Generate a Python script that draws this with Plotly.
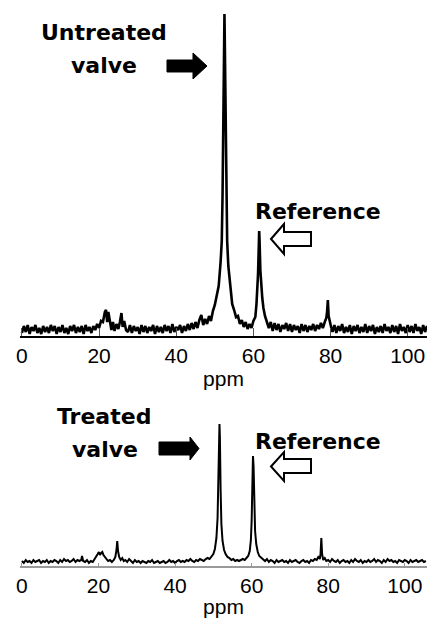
import plotly.graph_objects as go

W, H = 427, 618

def steps(start, n, d=0.5):
    return [round(start + d * i, 3) for i in range(n)]

# ---------------- Untreated valve spectrum (ppm, intensity a.u.) ----------------
TOP_PPM = (
    steps(0.0, 40)
    + [20, 20.5, 21, 21.5, 21.8, 22.1, 22.4, 22.8, 23.2, 23.6, 24, 24.5, 25, 25.4, 25.8, 26.1, 26.5, 27]
    + steps(27.5, 35)
    + [45, 45.5, 46, 46.5, 47, 47.5, 48, 48.5, 49, 49.5, 50, 50.5, 51, 51.5,
       51.8, 52.0, 52.2, 52.4, 52.5, 52.6, 52.8, 53.0, 53.2, 53.5, 53.8, 54.1, 54.5,
       55, 55.5, 56, 56.5, 57, 57.5, 58, 58.5, 59, 59.5, 60, 60.5, 60.8, 61.0, 61.2,
       61.4, 61.5, 61.6, 61.8, 62.0, 62.3, 62.6, 63.0, 63.5, 64, 64.5]
    + steps(65.0, 28)
    + [78.9, 79.1, 79.3, 79.5, 79.8, 80.2]
    + steps(80.5, 50)
)
TOP_INT = (
    [3, 10, 4, 11, 2, 9, 5, 11, 3, 8,
     2, 10, 4, 9, 3, 11, 5, 10, 2, 9,
     4, 11, 3, 8, 2, 10, 5, 11, 3, 9,
     4, 10, 2, 11, 5, 9, 3, 10, 6, 12]
    + [8, 15, 14, 24, 26, 14, 24, 13, 6, 14, 5, 12, 7, 14, 23, 9, 15, 6]
    + [4, 11, 3, 10, 5, 9, 2, 11, 4, 10,
       3, 9, 5, 11, 2, 10, 4, 9, 3, 11,
       5, 10, 3, 12, 4, 9, 6, 11, 3, 10,
       5, 12, 6, 13, 7]
    + [14, 8, 16, 21, 11, 17, 12, 20, 15, 25, 31, 40, 50, 74,
       95, 140, 210, 300, 322, 290, 200, 140, 95, 70, 56, 44, 32,
       26, 19, 20, 12, 16, 9, 14, 7, 12, 8, 15, 19, 32, 46, 62,
       90, 105, 95, 66, 50, 38, 28, 20, 14, 8, 14]
    + [5, 13, 6, 12, 4, 11, 7, 13, 5, 12,
       4, 11, 6, 10, 3, 12, 5, 11, 4, 10,
       6, 12, 5, 11, 7, 13, 8, 14]
    + [18, 24, 36, 20, 13, 8]
    + [4, 11, 3, 10, 5, 12, 3, 9, 4, 11,
       2, 10, 5, 11, 3, 9, 4, 12, 3, 10,
       5, 11, 2, 9, 4, 10, 3, 12, 5, 9,
       3, 11, 4, 10, 2, 12, 5, 9, 3, 11,
       4, 10, 3, 12, 5, 9, 2, 11, 4, 10]
)

# ---------------- Treated valve spectrum (ppm, intensity a.u.) ----------------
BOT_PPM = (
    steps(0.0, 31)
    + [15.5, 15.7, 16.0]
    + steps(16.5, 5)
    + [19, 19.5, 19.8, 20.1, 20.4, 20.7, 21.0, 21.3, 21.7, 22.1, 22.5, 23, 23.5, 24,
       24.4, 24.7, 24.9, 25.1, 25.4, 25.8, 26.2, 26.6]
    + steps(27.0, 44)
    + [49, 49.5, 50, 50.4, 50.8, 51.1, 51.3, 51.5, 51.6, 51.7, 51.9, 52.1, 52.4, 52.8,
       53.2, 53.7, 54.2, 54.7, 55.2, 55.7, 56.2, 56.7, 57.2, 57.7, 58.2, 58.7, 59.1,
       59.5, 59.8, 60.0, 60.2, 60.35, 60.5, 60.7, 60.9, 61.2, 61.6, 62.0, 62.5, 63]
    + steps(63.5, 28)
    + [77.4, 77.8, 78.0, 78.2, 78.4, 78.7, 79.1]
    + steps(79.5, 53)
)
BOT_INT = (
    [5, 3, 6, 4, 5, 3, 6, 4, 5, 6,
     3, 5, 4, 6, 3, 5, 4, 6, 5, 3,
     6, 4, 7, 5, 6, 4, 5, 7, 4, 6,
     5]
    + [6, 10, 5]
    + [4, 6, 3, 5, 4]
    + [7, 9, 12, 14, 11, 13, 14, 11, 9, 7, 5, 6, 4, 6,
       9, 16, 25, 15, 9, 6, 8, 5]
    + [6, 4, 7, 5, 3, 6, 4, 5, 3, 5,
       4, 3, 5, 4, 6, 3, 4, 5, 3, 4,
       5, 3, 4, 6, 4, 5, 3, 5, 6, 4,
       5, 4, 6, 5, 7, 5, 4, 6, 5, 7,
       6, 5, 7, 8]
    + [7, 9, 12, 17, 28, 48, 85, 120, 142, 130, 75, 42, 25, 16,
       12, 9, 8, 6, 7, 5, 6, 5, 6, 7, 6, 8, 10,
       15, 26, 45, 80, 110, 100, 60, 35, 22, 14, 10, 8, 6]
    + [5, 7, 4, 6, 5, 3, 6, 4, 5, 6,
       4, 5, 3, 6, 4, 5, 6, 4, 3, 5,
       6, 4, 5, 3, 6, 5, 7, 6]
    + [9, 7, 12, 28, 12, 6, 8]
    + [5, 6, 4, 7, 5, 4, 6, 3, 5, 6,
       4, 5, 3, 6, 4, 7, 5, 4, 6, 3,
       5, 4, 6, 4, 5, 7, 4, 6, 5, 3,
       6, 4, 7, 5, 6, 4, 5, 3, 6, 5,
       4, 6, 5, 3, 6, 4, 5, 6, 4, 5,
       6, 4, 5]
)

TICK_VALS = [0, 20, 40, 60, 80, 100]
TICK_TEXT = ["0", "20", "40", "60", "80", "100"]
X_TITLE = "ppm"
LABELS_TOP = ["Untreated", "valve", "Reference"]
LABELS_BOT = ["Treated", "valve", "Reference"]


def px(x):
    return x / W


def py(y):
    return 1 - y / H


fig = go.Figure()
fig.add_trace(go.Scatter(x=TOP_PPM, y=TOP_INT, mode="lines",
                         line=dict(color="black", width=2.6), xaxis="x", yaxis="y",
                         showlegend=False, hoverinfo="skip"))
fig.add_trace(go.Scatter(x=BOT_PPM, y=BOT_INT, mode="lines",
                         line=dict(color="black", width=2), xaxis="x2", yaxis="y2",
                         showlegend=False, hoverinfo="skip"))

tick_font = dict(family="Liberation Sans, Arial, sans-serif", size=21, color="black")

common_x = dict(tickvals=TICK_VALS, ticktext=TICK_TEXT, tickfont=tick_font,
                showgrid=False, zeroline=False, showline=True, automargin=False,
                title=dict(text=X_TITLE, font=tick_font, standoff=2))

fig.update_layout(
    width=W, height=H,
    margin=dict(l=0, r=0, t=0, b=0),
    paper_bgcolor="white", plot_bgcolor="white",
    xaxis=dict(domain=[px(20), 1], range=[-0.5, 105], anchor="y",
               linecolor="black", linewidth=1.5,
               ticks="inside", ticklen=8, tickcolor="#555", tickwidth=1,
               **common_x),
    yaxis=dict(domain=[py(336), 1], range=[0, 336], visible=False, anchor="x"),
    xaxis2=dict(domain=[px(20), 1], range=[-0.5, 105.8], anchor="y2",
                linecolor="#999", linewidth=1.5,
                ticks="inside", ticklen=3, tickcolor="#999", tickwidth=1,
                **common_x),
    yaxis2=dict(domain=[py(566), py(380)], range=[0, 186], visible=False, anchor="x2"),
)

bold_font = dict(family="DejaVu Sans, sans-serif", size=22, color="black")


def label(text, x, y):
    fig.add_annotation(text="<b>" + text + "</b>", x=px(x), y=py(y), xref="paper", yref="paper",
                       xanchor="center", yanchor="middle", showarrow=False, font=bold_font)


label(LABELS_TOP[0], 104, 33)
label(LABELS_TOP[1], 104, 66)
label(LABELS_TOP[2], 318, 212)
label(LABELS_BOT[0], 104, 416)
label(LABELS_BOT[1], 105, 449)
label(LABELS_BOT[2], 318, 441)


def path(points):
    return "M " + " L ".join(f"{px(a):.5f},{py(b):.5f}" for a, b in points) + " Z"


# filled right-pointing arrows
fig.add_shape(type="path", xref="paper", yref="paper",
              path=path([(167, 60), (193, 60), (193, 53), (207, 66), (193, 79), (193, 72), (167, 72)]),
              fillcolor="black", line=dict(color="black", width=1))
fig.add_shape(type="path", xref="paper", yref="paper",
              path=path([(159, 442), (190, 442), (190, 437), (199, 448.5), (190, 460), (190, 455), (159, 455)]),
              fillcolor="black", line=dict(color="black", width=1))
# hollow left-pointing arrows
fig.add_shape(type="path", xref="paper", yref="paper",
              path=path([(271, 239), (284, 224), (284, 232), (311, 232), (311, 246), (284, 246), (284, 254)]),
              fillcolor="white", line=dict(color="black", width=2))
fig.add_shape(type="path", xref="paper", yref="paper",
              path=path([(271, 466.5), (284, 452), (284, 459), (311, 459), (311, 473), (284, 473), (284, 481)]),
              fillcolor="white", line=dict(color="black", width=2))

fig.write_html(
    "out.html",
    config={"displayModeBar": False},
    post_script="document.body.style.margin='0';document.body.style.padding='0';"
                "document.body.style.overflow='hidden';",
)
